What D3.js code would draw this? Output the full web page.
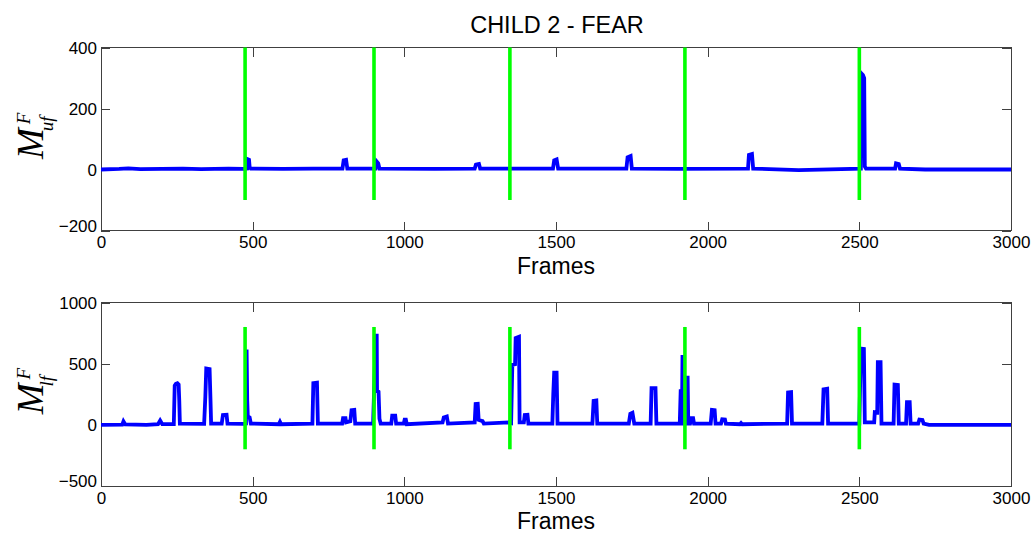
<!DOCTYPE html>
<html>
<head>
<meta charset="utf-8">
<script src="https://cdn.jsdelivr.net/npm/d3@7"></script>
<style>
  html, body { margin: 0; padding: 0; background: #fff; }
  svg { display: block; }
  text { font-family: "Liberation Sans", Arial, sans-serif; fill: #000; }
</style>
</head>
<body>
<svg id="chart" width="1034" height="538"></svg>
<script>
// ---------- data ----------
const title = "CHILD 2 - FEAR";
const xLabel = "Frames";
const xTicks = [0, 500, 1000, 1500, 2000, 2500, 3000];
const upperYTicks = [-200, 0, 200, 400];
const lowerYTicks = [-500, 0, 500, 1000];
const onsetFrames = [475, 900, 1348, 1925, 2500];
const upperOnsetRange = [-100, 400];
const lowerOnsetRange = [-200, 800];

// upper signal M^F_uf : frames and values of the key points
const upperFrames = [0, 60, 90, 130, 270, 330, 420, 470, 482, 483, 488, 490, 494,
  600, 700, 796, 800, 808, 812, 905, 909, 914, 918, 1100, 1232, 1236, 1246, 1250,
  1490, 1494, 1502, 1507, 1732, 1736, 1746, 1750, 1900, 2133, 2136, 2146, 2150,
  2300, 2505, 2507, 2512, 2516, 2518, 2522, 2618, 2621, 2630, 2634, 2717, 3000];
const upperValues = [0, 2, 4, 1, 3, 1, 3, 2, 3, 34, 32, 8, 3,
  2, 3, 3, 30, 32, 3, 3, 26, 20, 3, 2, 3, 16, 18, 3,
  3, 30, 33, 3, 3, 40, 44, 3, 2, 3, 48, 51, 3,
  -2, 3, 315, 310, 300, 10, 3, 3, 20, 18, 3, 0, 0];

// lower signal M^F_lf : frames and values of the key points
const lowerFrames = [0, 70, 74, 80, 150, 188, 195, 202, 240, 243, 247, 252, 256, 258, 260,
  340, 344, 347, 358, 361, 363, 398, 402, 414, 417, 470, 478, 480, 482, 484, 490, 494,
  586, 590, 594, 697, 700, 712, 715, 795, 798, 806, 808, 822, 826, 835, 838,
  897, 906, 909, 910, 915, 918, 922, 957, 960, 970, 973, 998, 1001, 1005, 1008,
  1126, 1130, 1140, 1144, 1232, 1235, 1242, 1245, 1258, 1262,
  1345, 1352, 1356, 1365, 1367, 1378, 1380, 1394, 1397, 1406, 1409,
  1488, 1491, 1494, 1502, 1505, 1620, 1624, 1633, 1636, 1740, 1745, 1752, 1758,
  1812, 1815, 1828, 1831, 1908, 1911, 1916, 1917, 1918, 1928, 1931, 1934, 1936,
  1942, 1945, 1952, 1955, 2010, 2014, 2023, 2026, 2044, 2048, 2057, 2060,
  2106, 2110, 2114, 2262, 2265, 2275, 2278, 2378, 2382, 2394, 2397,
  2500, 2505, 2515, 2518, 2549, 2551, 2559, 2561, 2570, 2573,
  2613, 2616, 2627, 2630, 2654, 2657, 2666, 2669, 2694, 2698, 2708, 2712, 2730, 3000];
const lowerValues = [0, 2, 28, 3, 0, 5, 35, 5, 5, 320, 335, 340, 330, 200, 10,
  8, 230, 460, 455, 200, 10, 10, 80, 82, 10, 8, 10, 615, 200, 70, 60, 10,
  5, 25, 5, 10, 340, 344, 10, 10, 55, 55, 20, 30, 120, 123, 10,
  10, 730, 730, 280, 270, 50, 10, 10, 75, 75, 10, 10, 43, 43, 5,
  20, 60, 68, 10, 20, 170, 172, 40, 30, 10,
  20, 15, 490, 495, 710, 720, 20, 20, 80, 82, 10,
  10, 250, 426, 426, 10, 10, 195, 199, 10, 10, 90, 98, 10,
  10, 300, 300, 10, 10, 276, 276, 570, 10, 10, 385, 385, 10,
  10, 54, 54, 10, 10, 123, 120, 10, 10, 46, 44, 10,
  5, 15, 5, 10, 265, 267, 10, 10, 290, 295, 10,
  10, 623, 620, 20, 20, 103, 100, 513, 513, 10,
  10, 328, 325, 10, 10, 185, 185, 10, 10, 43, 40, 10, 0, 0];

// ---------- drawing ----------
const svg = d3.select("#chart");
const xLeft = 101, xRight = 1011;
const x = d3.scaleLinear().domain([0, 3000]).range([xLeft, xRight]);
const fmt = d3.format("d");

const panels = [
  { frames: upperFrames, values: upperValues, yTicks: upperYTicks, domain: [-200, 400],
    top: 47.5, bottom: 230.5, onset: upperOnsetRange, sub: "uf" },
  { frames: lowerFrames, values: lowerValues, yTicks: lowerYTicks, domain: [-500, 1000],
    top: 302.5, bottom: 486, onset: lowerOnsetRange, sub: "lf" }
];

const axisColor = "#404040";
const tickLen = 9;

svg.append("text")
  .attr("x", (xLeft + xRight) / 2 + 1).attr("y", 33)
  .attr("text-anchor", "middle")
  .style("font-size", "23.5px")
  .text(title);

panels.forEach(p => {
  const y = d3.scaleLinear().domain(p.domain).range([p.bottom, p.top]);
  const g = svg.append("g");

  // box
  g.append("rect")
    .attr("x", xLeft).attr("y", p.top)
    .attr("width", xRight - xLeft).attr("height", p.bottom - p.top)
    .attr("fill", "none").attr("stroke", axisColor).attr("stroke-width", 1)
    .attr("shape-rendering", "crispEdges");

  // x ticks (bottom and top, inward)
  const xa = d3.axisBottom(x).tickValues(xTicks).tickFormat(fmt).tickSizeInner(-tickLen).tickSizeOuter(0);
  const gx = g.append("g").attr("transform", `translate(0,${p.bottom})`).call(xa);
  gx.select(".domain").remove();
  gx.selectAll("line").attr("stroke", axisColor).attr("shape-rendering", "crispEdges");
  gx.selectAll("text").style("font-size", "17px").attr("font-family", null)
    .attr("y", 17.5).attr("dy", null);
  const gxt = g.append("g").attr("transform", `translate(0,${p.top})`)
    .call(d3.axisTop(x).tickValues(xTicks).tickSizeInner(-tickLen).tickSizeOuter(0).tickFormat(""));
  gxt.select(".domain").remove();
  gxt.selectAll("line").attr("stroke", axisColor).attr("shape-rendering", "crispEdges");

  // y ticks (left and right, inward)
  const ya = d3.axisLeft(y).tickValues(p.yTicks).tickFormat(fmt).tickSizeInner(-tickLen).tickSizeOuter(0);
  const gy = g.append("g").attr("transform", `translate(${xLeft},0)`).call(ya);
  gy.select(".domain").remove();
  gy.selectAll("line").attr("stroke", axisColor).attr("shape-rendering", "crispEdges");
  gy.selectAll("text").style("font-size", "17px").attr("font-family", null)
    .attr("x", -4).attr("dy", "0.35em");
  gy.selectAll(".tick").filter(d => d === p.domain[0]).select("text").attr("dy", "0.05em");
  const gyr = g.append("g").attr("transform", `translate(${xRight},0)`)
    .call(d3.axisRight(y).tickValues(p.yTicks).tickSizeInner(-tickLen).tickSizeOuter(0).tickFormat(""));
  gyr.select(".domain").remove();
  gyr.selectAll("line").attr("stroke", axisColor).attr("shape-rendering", "crispEdges");

  // signal
  const pts = p.frames.map((f, i) => [f, p.values[i]]);
  g.append("path")
    .datum(pts)
    .attr("fill", "none")
    .attr("stroke", "#0000ff")
    .attr("stroke-width", 3.8)
    .attr("stroke-linejoin", "miter")
    .attr("d", d3.line().x(d => x(d[0])).y(d => y(d[1])));

  // onset markers
  g.selectAll("line.onset").data(onsetFrames).enter().append("line")
    .attr("class", "onset")
    .attr("x1", d => x(d)).attr("x2", d => x(d))
    .attr("y1", y(p.onset[0])).attr("y2", y(p.onset[1]))
    .attr("stroke", "#00ff00").attr("stroke-width", 3.6);

  // x label
  g.append("text")
    .attr("x", (xLeft + xRight) / 2).attr("y", p.bottom + 43)
    .attr("text-anchor", "middle")
    .style("font-size", "23px")
    .text(xLabel);

  // y label: M^F_{sub}
  const cy = (p.top + p.bottom) / 2 + 20;
  const lab = g.append("g").attr("transform", `translate(43,${cy}) rotate(-90)`);
  const serif = '"Liberation Serif", "Times New Roman", serif';
  const m = lab.append("text").attr("x", 0).attr("y", 0)
    .style("font-family", serif).style("font-style", "italic").style("font-size", "37px")
    .text("M");
  const mw = m.node().getComputedTextLength();
  lab.append("text").attr("x", mw + 4).attr("y", -13)
    .style("font-family", serif).style("font-style", "italic").style("font-size", "19px")
    .text("F");
  lab.append("text").attr("x", mw - 3).attr("y", 10)
    .style("font-family", serif).style("font-style", "italic").style("font-size", "19px")
    .text(p.sub);
});
</script>
</body>
</html>
